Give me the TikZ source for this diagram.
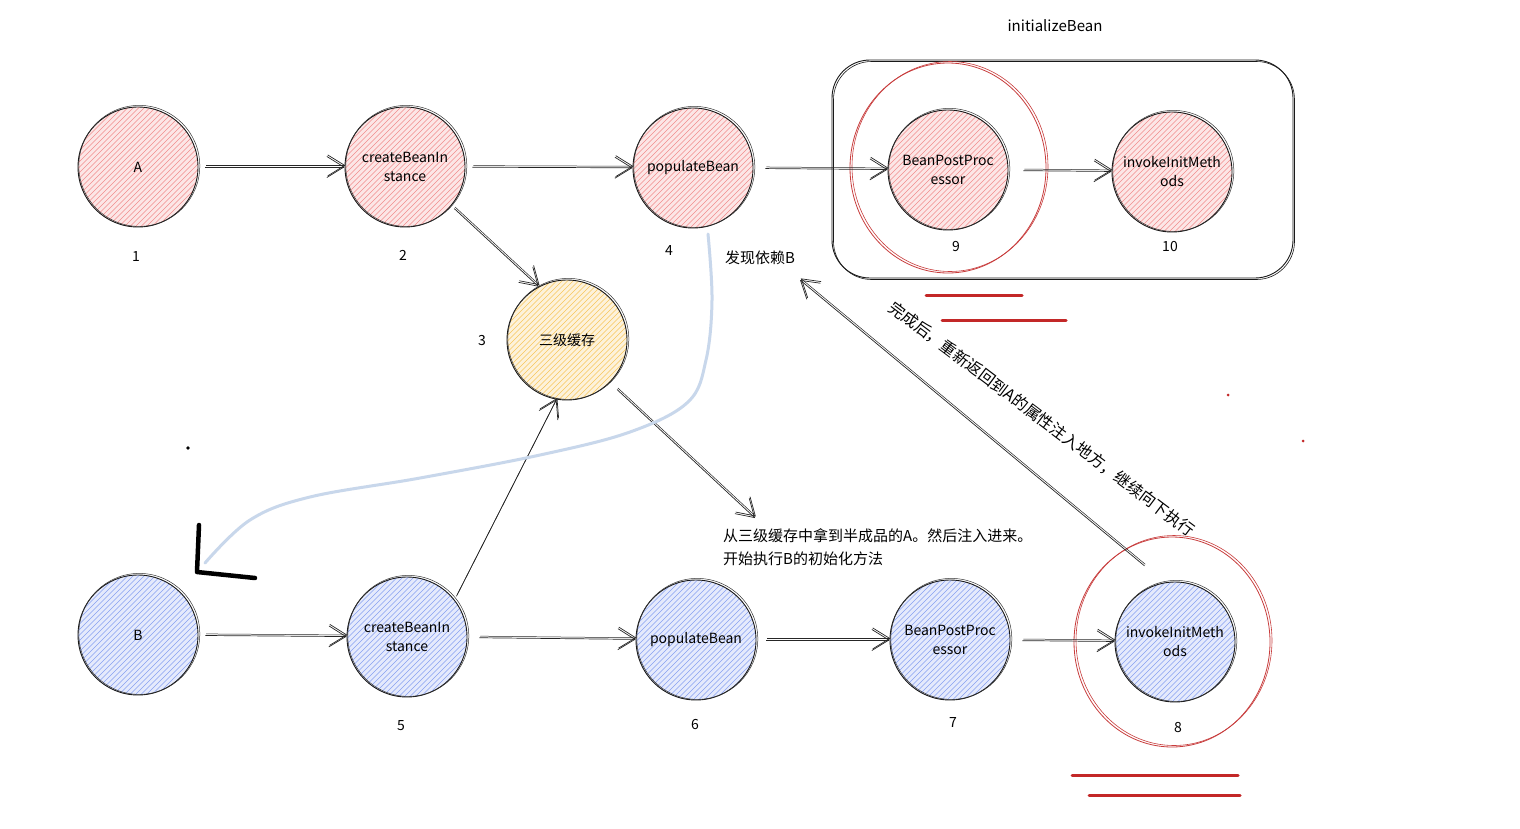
\documentclass[tikz,border=0pt]{standalone}
\usepackage{fontspec}
\setmainfont{Noto Sans CJK SC}
\usetikzlibrary{arrows.meta,shapes.geometric}
\definecolor{hred}{RGB}{240,140,140}
\definecolor{hblue}{RGB}{135,160,240}
\definecolor{hyel}{RGB}{248,198,90}
\definecolor{ringred}{RGB}{200,60,60}
\definecolor{ulred}{RGB}{195,40,40}
\definecolor{curveblue}{RGB}{200,215,235}
\tikzset{
  bub/.style={circle, draw=black!90, line width=0.9pt, minimum size=120pt, inner sep=0pt,
    align=center, font=\fontsize{14}{19}\selectfont},
  outline2/.style={draw=black!80, line width=0.5pt},
  hatch/.style={fill=#1!22, path picture={
    \foreach \i in {-130,-124.5,...,130}
      \draw[#1, line width=0.65pt] ([xshift=\i pt]path picture bounding box.center)
        ++(-100pt,-100pt) -- ++(200pt,200pt);}},
  hr/.style={hatch=hred},
  hb/.style={hatch=hblue},
  hy/.style={hatch=hyel},
  num/.style={font=\fontsize{14}{16}\selectfont, inner sep=0pt},
  txt/.style={font=\fontsize{15}{23}\selectfont, inner sep=0pt},
  arr/.style={draw=black!85, line width=0.7pt, shorten <=7pt,
    -{Straight Barb[length=17pt,width=21pt,line width=0.7pt]},
    postaction={draw, line width=0.5pt, transform canvas={shift={(0.8pt,1.6pt)}}}},
  ring/.style={ellipse, draw=ringred, line width=0.8pt, minimum width=196pt, minimum height=210pt,
    postaction={draw, line width=0.6pt, transform canvas={shift={(2pt,1.5pt)}}}},
  ul/.style={draw=ulred, line width=3pt, line cap=round},
  frame/.style={draw=black!90, line width=0.9pt, rounded corners=38pt,
    postaction={draw, line width=0.6pt, transform canvas={shift={(1.5pt,-1.5pt)}}}}
}
\begin{document}
\begin{tikzpicture}[x=1pt,y=-1pt]
\useasboundingbox[fill=white] (0,0) rectangle (1520,828);

% frame and rings
\draw[frame] (832,60) rectangle (1293,278);
\node[txt] (initlbl) at (1055,26) {initializeBean};
\node[ring] (ringA) at (948,168) {};
\node[ring] (ringB) at (1172,642) {};

% top row
\node[bub,hr] (A) at (138,167) {A};
\node[bub,hr] (cbiA) at (405,167) {createBeanIn\\stance};
\node[bub,hr] (popA) at (693,168) {populateBean};
\node[bub,hr] (bppA) at (948,170) {BeanPostProc\\essor};
\node[bub,hr] (invA) at (1172,172) {invokeInitMeth\\ods};
\node[bub,hy] (cache) at (567,340) {三级缓存};

% bottom row
\node[bub,hb] (B) at (138,635) {B};
\node[bub,hb] (cbiB) at (407,637) {createBeanIn\\stance};
\node[bub,hb] (popB) at (696,640) {populateBean};
\node[bub,hb] (bppB) at (950,640) {BeanPostProc\\essor};
\node[bub,hb] (invB) at (1175,642) {invokeInitMeth\\ods};

% sketchy second outlines
\foreach \n in {A,cbiA,popA,bppA,invA,cache,B,cbiB,popB,bppB,invB}
  \draw[outline2] ([shift={(1.3pt,1.1pt)}]\n.center) circle[radius=60.5pt];

% numbers
\node[num] (n1) at (136,257) {1};
\node[num] (n2) at (403,255) {2};
\node[num] (n3) at (482,341) {3};
\node[num] (n4) at (669,251) {4};
\node[num] (n9) at (956,247) {9};
\node[num] (n10) at (1170,247) {10};
\node[num] (n5) at (401,726) {5};
\node[num] (n6) at (695,724) {6};
\node[num] (n7) at (953,722) {7};
\node[num] (n8) at (1178,727) {8};

% texts
\node[txt, anchor=west] (found) at (725,258) {发现依赖B};
\node[txt, anchor=north west, align=left] (note) at (723,528) {从三级缓存中拿到半成品的A。然后注入进来。\\开始执行B的初始化方法};
\node[txt, font=\fontsize{16}{20}\selectfont, rotate=-37] (diag) at (1042,419) {完成后，重新返回到A的属性注入地方，继续向下执行};

% free ends
\coordinate (noteEnd) at (755,518);
\coordinate (foundEnd) at (800,280);

% connectors
\draw[arr] (A) -- (cbiA);
\draw[arr] (cbiA) -- (popA);
\draw[arr, shorten <=12pt] (popA) -- (bppA);
\draw[arr, shorten <=15pt] (bppA) -- (invA);
\draw[arr, shorten <=4pt] (cbiA.-40) -- (cache.118);
\draw[arr, shorten <=10pt] (cache.-45) -- (noteEnd);
\draw[arr, shorten <=4pt] (cbiB.38) -- (cache.-100);
\draw[arr] (B) -- (cbiB);
\draw[arr, shorten <=12pt] (cbiB) -- (popB);
\draw[arr, shorten <=10pt] (popB) -- (bppB);
\draw[arr, shorten <=12pt] (bppB) -- (invB);
\draw[arr, shorten <=26pt] (invB.100) -- (foundEnd);

% blue curve with black hook
\draw[curveblue, line width=3pt, line cap=round] plot[smooth, tension=0.6] coordinates {
  (708,234) (712,300) (706,360) (688,402) (630,432) (540,455) (420,478) (310,497) (250,520) (205,563)};
\draw[black, line width=4.5pt, line cap=round, line join=round] (199,525) -- (197,572) -- (255,578);

% red underlines
\draw[ul] (926,295) -- (1022,295);
\draw[ul] (942,320) -- (1066,320);
\draw[ul] (1072,775) -- (1238,775);
\draw[ul] (1089,795) -- (1240,795);

% dots
\fill[ulred] (1228,395) circle[radius=1.5];
\fill[ulred] (1303,441) circle[radius=1.5];
\fill[black] (188,448) circle[radius=1.8];
\end{tikzpicture}
\end{document}
